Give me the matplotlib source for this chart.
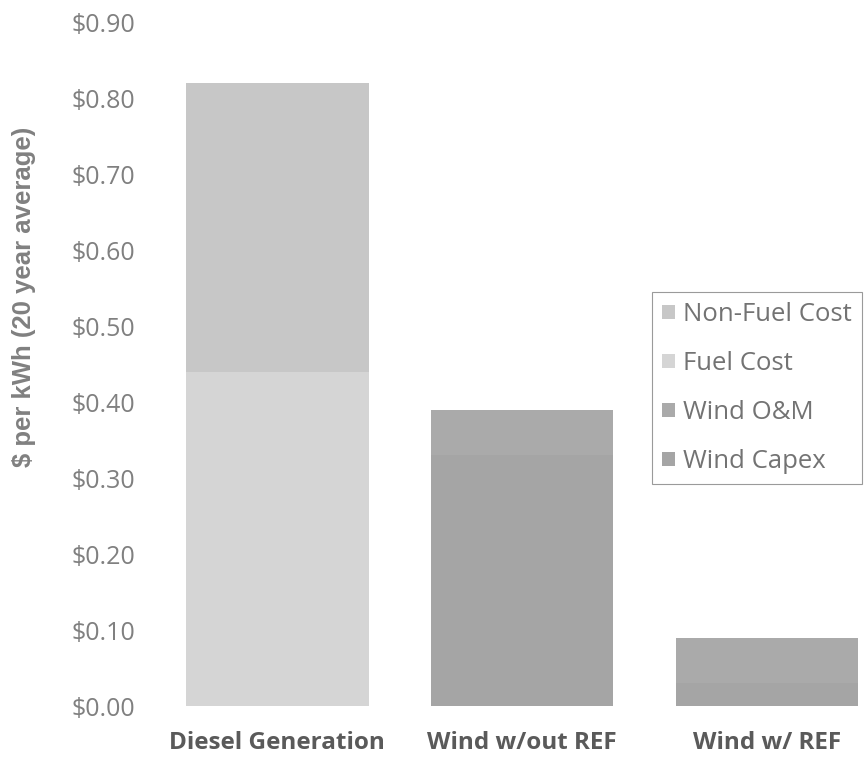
import numpy as np
import matplotlib
matplotlib.use("Agg")
import matplotlib.pyplot as plt

# data ($ per kWh, 20 year average)
categories = ["Diesel Generation", "Wind w/out REF", "Wind w/ REF"]
wind_capex = [0.00, 0.33, 0.03]
wind_om = [0.00, 0.06, 0.06]
fuel_cost = [0.44, 0.00, 0.00]
non_fuel_cost = [0.38, 0.00, 0.00]
y_ticks = [0.0, 0.1, 0.2, 0.3, 0.4, 0.5, 0.6, 0.7, 0.8, 0.9]

series = [
    ("Wind Capex", wind_capex, "#a5a5a5"),
    ("Wind O&M", wind_om, "#aaaaaa"),
    ("Fuel Cost", fuel_cost, "#d5d5d5"),
    ("Non-Fuel Cost", non_fuel_cost, "#c7c7c7"),
]

fig = plt.figure(figsize=(8.65, 7.57), dpi=100)
ax = fig.add_axes([155 / 865, 51 / 757, 710 / 865, 684 / 757])

x = np.arange(len(categories))
bottom = np.zeros(len(categories))
handles = []
for name, vals, col in series:
    vals = np.array(vals)
    b = ax.bar(x, vals, 0.745, bottom=bottom, color=col, label=name)
    handles.append(b)
    bottom += vals

ax.set_xlim(-0.5, 2.4)
ax.set_ylim(0, 0.9)
ax.set_yticks(y_ticks)
ax.set_yticklabels(["${:.2f}".format(v) for v in y_ticks], fontsize=18,
                   color="#808080", family="Open Sans")
ax.set_xticks(x)
ax.set_xticklabels(categories, fontsize=17.5, fontweight="bold",
                   color="#5a5a5a", family="Open Sans")
ax.tick_params(axis="y", length=0, pad=14)
ax.tick_params(axis="x", length=0, pad=18)
for s in ax.spines.values():
    s.set_visible(False)

fig.text(24 / 865, 1 - 297 / 757, "$ per kWh (20 year average)", rotation=90,
         ha="center", va="center", fontsize=18.5, fontweight="bold",
         color="#808080", family="Liberation Sans")

leg = ax.legend(handles[::-1], [s[0] for s in series][::-1],
                loc="upper left", bbox_to_anchor=(652 / 865, 1 - 292 / 757),
                bbox_transform=fig.transFigure, borderaxespad=0,
                prop={"family": "Open Sans", "size": 18.5},
                labelspacing=0.93, handlelength=0.5, handleheight=0.5,
                handletextpad=0.3, borderpad=0.4, fancybox=False,
                framealpha=1)
leg.get_frame().set_edgecolor("#9a9a9a")
leg.get_frame().set_linewidth(0.8)
for t in leg.get_texts():
    t.set_color("#737373")

fig.savefig("out.png", dpi=100, facecolor="white")
